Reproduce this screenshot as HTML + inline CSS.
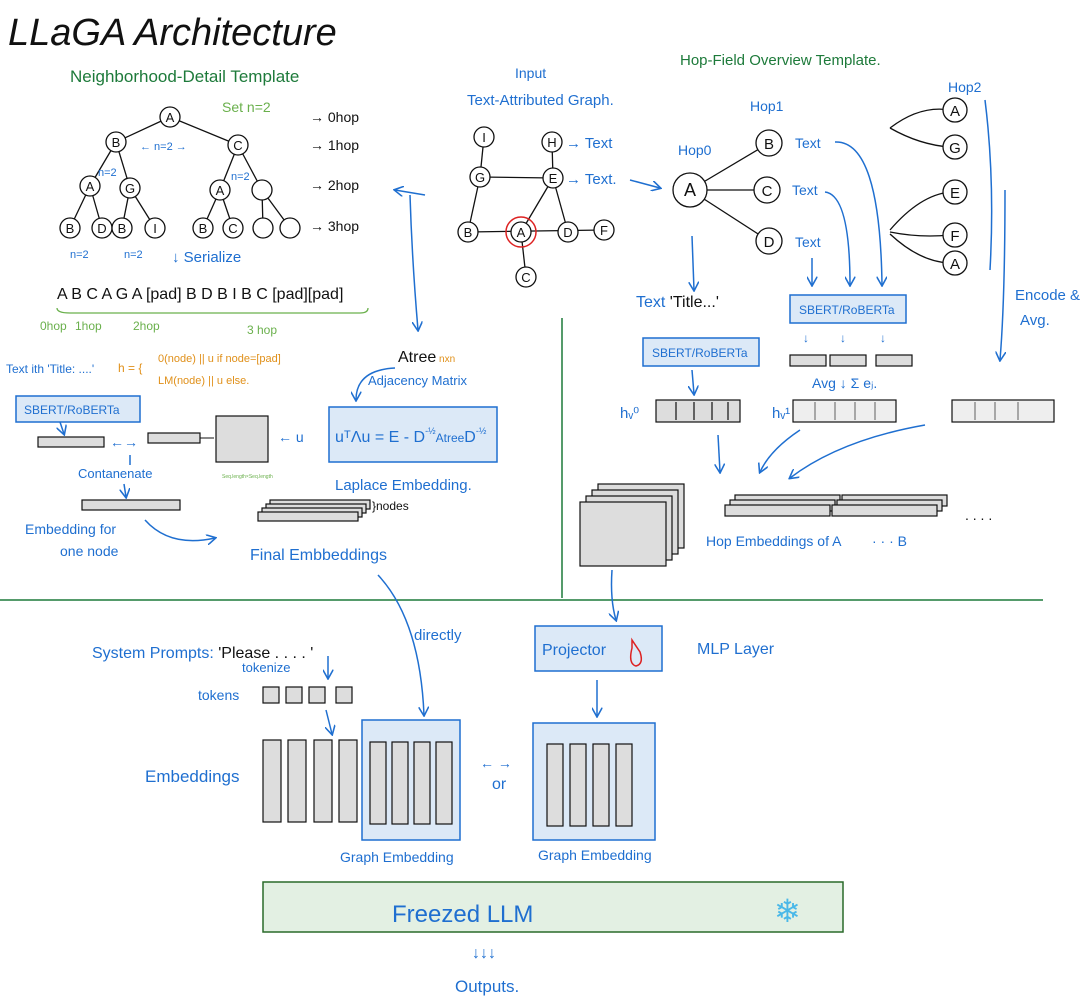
<!DOCTYPE html>
<html><head><meta charset="utf-8"><style>
html,body{margin:0;padding:0;background:#fff;}
svg{display:block;font-family:"Liberation Sans",sans-serif;}
.b{fill:#1f6fd0;}
.g{fill:#1d7a3a;}
.k{fill:#111;}
.o{fill:#e0901a;}
.lb{fill:#dce9f7;stroke:#1f6fd0;stroke-width:1.5;}
.gr{fill:#ddd;stroke:#111;stroke-width:1.2;}
.ln{stroke:#1f6fd0;stroke-width:1.5;fill:none;}
.kl{stroke:#111;stroke-width:1.3;fill:none;}
.c{fill:#fff;stroke:#111;stroke-width:1.3;}
</style></head><body>
<svg width="1081" height="1000" viewBox="0 0 1081 1000">
<defs><marker id="a" viewBox="0 0 10 10" refX="8" refY="5" markerWidth="7" markerHeight="7" orient="auto"><path d="M0,0 L9,5 L0,10" fill="none" stroke="#1f6fd0" stroke-width="1.5"/></marker></defs>
<rect width="1081" height="1000" fill="#fff"/>
<text x="8" y="45" font-size="38" font-style="italic" class="k">LLaGA Architecture</text>
<line x1="0" y1="600" x2="1043" y2="600" stroke="#1d7a3a" stroke-width="1.5"/>
<line x1="562" y1="318" x2="562" y2="598" stroke="#1d7a3a" stroke-width="1.5"/>

<text x="70" y="82" font-size="17" class="g">Neighborhood-Detail Template</text>
<text x="222" y="112" font-size="14" fill="#6ab04c">Set n=2</text>
<g class="kl">
<line x1="170" y1="117" x2="116" y2="142"/><line x1="170" y1="117" x2="238" y2="145"/>
<line x1="116" y1="142" x2="90" y2="186"/><line x1="116" y1="142" x2="130" y2="188"/>
<line x1="238" y1="145" x2="220" y2="190"/><line x1="238" y1="145" x2="262" y2="190"/>
<line x1="90" y1="186" x2="70" y2="228"/><line x1="90" y1="186" x2="102" y2="228"/>
<line x1="130" y1="188" x2="122" y2="228"/><line x1="130" y1="188" x2="155" y2="228"/>
<line x1="220" y1="190" x2="203" y2="228"/><line x1="220" y1="190" x2="233" y2="228"/>
<line x1="262" y1="190" x2="263" y2="228"/><line x1="262" y1="190" x2="290" y2="228"/>
</g>
<g font-size="13" text-anchor="middle" class="k">
<circle class="c" cx="170" cy="117" r="10"/><text x="170" y="122">A</text>
<circle class="c" cx="116" cy="142" r="10"/><text x="116" y="147">B</text>
<circle class="c" cx="238" cy="145" r="10"/><text x="238" y="150">C</text>
<circle class="c" cx="90" cy="186" r="10"/><text x="90" y="191">A</text>
<circle class="c" cx="130" cy="188" r="10"/><text x="130" y="193">G</text>
<circle class="c" cx="220" cy="190" r="10"/><text x="220" y="195">A</text>
<circle class="c" cx="262" cy="190" r="10"/>
<circle class="c" cx="70" cy="228" r="10"/><text x="70" y="233">B</text>
<circle class="c" cx="102" cy="228" r="10"/><text x="102" y="233">D</text>
<circle class="c" cx="122" cy="228" r="10"/><text x="122" y="233">B</text>
<circle class="c" cx="155" cy="228" r="10"/><text x="155" y="233">I</text>
<circle class="c" cx="203" cy="228" r="10"/><text x="203" y="233">B</text>
<circle class="c" cx="233" cy="228" r="10"/><text x="233" y="233">C</text>
<circle class="c" cx="263" cy="228" r="10"/>
<circle class="c" cx="290" cy="228" r="10"/>
</g>
<g font-size="11" class="b"><text x="140" y="150">← n=2 →</text><text x="98" y="176">n=2</text><text x="231" y="180">n=2</text><text x="70" y="258">n=2</text><text x="124" y="258">n=2</text></g>
<g font-size="14" class="k"><text x="310" y="122">→ 0hop</text><text x="310" y="150">→ 1hop</text><text x="310" y="190">→ 2hop</text><text x="310" y="231">→ 3hop</text></g>
<text x="172" y="262" font-size="15" class="b">↓ Serialize</text>
<text x="57" y="299" font-size="16" class="k">A B C A G A [pad] B D B I B C [pad][pad]</text>
<path d="M57,308 Q57,313 70,313 L360,313 Q368,313 368,308" stroke="#6ab04c" fill="none" stroke-width="1.3"/>
<g font-size="12" fill="#6ab04c"><text x="40" y="330">0hop</text><text x="75" y="330">1hop</text><text x="133" y="330">2hop</text><text x="247" y="334">3 hop</text></g>
<text x="6" y="373" font-size="12" class="b">Text ith 'Title: ....'</text>
<text x="118" y="372" font-size="12" class="o">h = {</text>
<text x="158" y="362" font-size="11" class="o">0(node) || u  if node=[pad]</text>
<text x="158" y="384" font-size="11" class="o">LM(node) || u  else.</text>
<rect class="lb" x="16" y="396" width="124" height="26"/><text x="24" y="414" font-size="12" class="b">SBERT/RoBERTa</text>
<line class="ln" x1="60" y1="422" x2="64" y2="434" marker-end="url(#a)"/>
<rect class="gr" x="38" y="437" width="66" height="10"/>
<text x="110" y="447" font-size="14" class="b">←→</text>
<rect class="gr" x="148" y="433" width="52" height="10"/>
<line x1="200" y1="438" x2="214" y2="438" stroke="#111"/>
<rect class="gr" x="216" y="416" width="52" height="46"/>
<text x="222" y="478" font-size="5" fill="#6ab04c">Seq.length×Seq.length</text>
<text x="278" y="442" font-size="14" class="b">← u</text>
<rect class="lb" x="329" y="407" width="168" height="55"/>
<text x="335" y="442" font-size="16" class="b">uᵀΛu = E - D<tspan font-size="9" dy="-8">-½</tspan><tspan dy="8" font-size="12">Atree</tspan>D<tspan font-size="9" dy="-8">-½</tspan></text>
<text x="398" y="362" font-size="16" class="k">Atree<tspan font-size="10" fill="#e0901a"> nxn</tspan></text>
<text x="368" y="385" font-size="13" class="b">Adjacency Matrix</text>
<path class="ln" d="M395,368 Q356,370 356,400" marker-end="url(#a)"/>
<text x="335" y="490" font-size="15" class="b">Laplace Embedding.</text>
<line class="ln" x1="130" y1="455" x2="130" y2="465"/>
<text x="78" y="478" font-size="13" class="b">Contanenate</text>
<line class="ln" x1="124" y1="484" x2="126" y2="497" marker-end="url(#a)"/>
<rect class="gr" x="82" y="500" width="98" height="10"/>
<text x="25" y="534" font-size="14" class="b">Embedding for</text>
<text x="60" y="556" font-size="14" class="b">one node</text>
<path class="ln" d="M145,520 Q170,548 215,538" marker-end="url(#a)"/>
<g><rect class="gr" x="270" y="500" width="100" height="9"/><rect class="gr" x="266" y="504" width="100" height="9"/><rect class="gr" x="262" y="508" width="100" height="9"/><rect class="gr" x="258" y="512" width="100" height="9"/></g>
<text x="372" y="510" font-size="12" class="k">}nodes</text>
<text x="250" y="560" font-size="16" class="b">Final Embbeddings</text>

<text x="515" y="78" font-size="14" class="b">Input</text>
<text x="467" y="105" font-size="15" class="b">Text-Attributed Graph.</text>
<g class="kl">
<line x1="484" y1="137" x2="480" y2="177"/><line x1="552" y1="142" x2="553" y2="178"/>
<line x1="480" y1="177" x2="553" y2="178"/><line x1="480" y1="177" x2="468" y2="232"/>
<line x1="553" y1="178" x2="521" y2="232"/><line x1="553" y1="178" x2="568" y2="232"/>
<line x1="468" y1="232" x2="604" y2="230"/><line x1="521" y1="232" x2="526" y2="277"/>
</g>
<circle cx="521" cy="232" r="15" fill="none" stroke="#d22" stroke-width="1.5"/>
<g font-size="13" text-anchor="middle" class="k">
<circle class="c" cx="484" cy="137" r="10"/><text x="484" y="142">I</text>
<circle class="c" cx="552" cy="142" r="10"/><text x="552" y="147">H</text>
<circle class="c" cx="480" cy="177" r="10"/><text x="480" y="182">G</text>
<circle class="c" cx="553" cy="178" r="10"/><text x="553" y="183">E</text>
<circle class="c" cx="468" cy="232" r="10"/><text x="468" y="237">B</text>
<circle class="c" cx="521" cy="232" r="10"/><text x="521" y="237">A</text>
<circle class="c" cx="568" cy="232" r="10"/><text x="568" y="237">D</text>
<circle class="c" cx="604" cy="230" r="10"/><text x="604" y="235">F</text>
<circle class="c" cx="526" cy="277" r="10"/><text x="526" y="282">C</text>
</g>
<text x="566" y="148" font-size="15" class="b">→ Text</text>
<text x="566" y="184" font-size="15" class="b">→ Text.</text>
<path class="ln" d="M425,195 L395,190" marker-end="url(#a)"/>
<path class="ln" d="M410,195 Q412,260 418,330" marker-end="url(#a)"/>
<path class="ln" d="M630,180 L660,188" marker-end="url(#a)"/>

<text x="680" y="65" font-size="15" class="g">Hop-Field Overview Template.</text>
<text x="750" y="111" font-size="14" class="b">Hop1</text>
<text x="948" y="92" font-size="14" class="b">Hop2</text>
<text x="678" y="155" font-size="14" class="b">Hop0</text>
<g class="kl"><line x1="690" y1="190" x2="769" y2="143"/><line x1="690" y1="190" x2="767" y2="190"/><line x1="690" y1="190" x2="769" y2="241"/>
<path d="M890,128 Q920,105 950,110"/><path d="M890,128 Q920,145 950,147"/><path d="M890,230 Q920,195 950,192"/><path d="M890,232 Q920,238 950,235"/><path d="M890,234 Q920,262 950,263"/></g>
<g font-size="15" text-anchor="middle" class="k">
<circle class="c" cx="690" cy="190" r="17"/><text x="690" y="196" font-size="18">A</text>
<circle class="c" cx="769" cy="143" r="13"/><text x="769" y="149">B</text>
<circle class="c" cx="767" cy="190" r="13"/><text x="767" y="196">C</text>
<circle class="c" cx="769" cy="241" r="13"/><text x="769" y="247">D</text>
<circle class="c" cx="955" cy="110" r="12"/><text x="955" y="116">A</text>
<circle class="c" cx="955" cy="147" r="12"/><text x="955" y="153">G</text>
<circle class="c" cx="955" cy="192" r="12"/><text x="955" y="198">E</text>
<circle class="c" cx="955" cy="235" r="12"/><text x="955" y="241">F</text>
<circle class="c" cx="955" cy="263" r="12"/><text x="955" y="269">A</text>
</g>
<g font-size="14" class="b"><text x="795" y="148">Text</text><text x="792" y="195">Text</text><text x="795" y="247">Text</text></g>
<path class="ln" d="M835,142 Q880,140 882,285" marker-end="url(#a)"/>
<path class="ln" d="M825,192 Q850,195 850,285" marker-end="url(#a)"/>
<line class="ln" x1="812" y1="258" x2="812" y2="285" marker-end="url(#a)"/>
<path class="ln" d="M985,100 Q995,180 990,270"/>
<path class="ln" d="M1005,190 Q1005,300 1000,360" marker-end="url(#a)"/>
<text x="1015" y="300" font-size="15" class="b">Encode &amp;</text>
<text x="1020" y="325" font-size="15" class="b">Avg.</text>
<line class="ln" x1="692" y1="236" x2="694" y2="290" marker-end="url(#a)"/>
<text x="636" y="307" font-size="16" class="b">Text <tspan fill="#111">'Title...'</tspan></text>
<rect class="lb" x="643" y="338" width="116" height="28"/><text x="652" y="357" font-size="12" class="b">SBERT/RoBERTa</text>
<rect class="lb" x="790" y="295" width="116" height="28"/><text x="799" y="314" font-size="12" class="b">SBERT/RoBERTa</text>
<g font-size="12" class="b"><text x="803" y="342">↓</text><text x="840" y="342">↓</text><text x="880" y="342">↓</text></g>
<g class="gr"><rect x="790" y="355" width="36" height="11"/><rect x="830" y="355" width="36" height="11"/><rect x="876" y="355" width="36" height="11"/></g>
<text x="812" y="388" font-size="14" class="b">Avg ↓ Σ eⱼ.</text>
<line class="ln" x1="692" y1="370" x2="694" y2="394" marker-end="url(#a)"/>
<text x="620" y="418" font-size="15" class="b">hᵥ⁰</text>
<rect class="gr" x="656" y="400" width="84" height="22"/>
<g stroke="#111" stroke-width="1.2"><line x1="676" y1="402" x2="676" y2="420"/><line x1="694" y1="402" x2="694" y2="420"/><line x1="712" y1="402" x2="712" y2="420"/><line x1="728" y1="402" x2="728" y2="420"/>
<line x1="815" y1="402" x2="815" y2="420"/><line x1="835" y1="402" x2="835" y2="420"/><line x1="855" y1="402" x2="855" y2="420"/><line x1="875" y1="402" x2="875" y2="420"/>
<line x1="975" y1="402" x2="975" y2="420"/><line x1="995" y1="402" x2="995" y2="420"/><line x1="1018" y1="402" x2="1018" y2="420"/></g>
<text x="772" y="418" font-size="15" class="b">hᵥ¹</text>
<rect class="gr" x="793" y="400" width="103" height="22" fill-opacity="0.5"/>
<rect class="gr" x="952" y="400" width="102" height="22" fill-opacity="0.5"/>
<line class="ln" x1="718" y1="435" x2="720" y2="472" marker-end="url(#a)"/>
<path class="ln" d="M800,430 Q770,450 760,472" marker-end="url(#a)"/>
<path class="ln" d="M925,425 Q840,440 790,478" marker-end="url(#a)"/>
<g><rect class="gr" x="598" y="484" width="86" height="64"/><rect class="gr" x="592" y="490" width="86" height="64"/><rect class="gr" x="586" y="496" width="86" height="64"/><rect class="gr" x="580" y="502" width="86" height="64"/></g>
<g><rect class="gr" x="735" y="495" width="105" height="11"/><rect class="gr" x="730" y="500" width="105" height="11"/><rect class="gr" x="725" y="505" width="105" height="11"/>
<rect class="gr" x="842" y="495" width="105" height="11"/><rect class="gr" x="837" y="500" width="105" height="11"/><rect class="gr" x="832" y="505" width="105" height="11"/></g>
<text x="965" y="520" font-size="14" class="k">. . . .</text>
<text x="706" y="546" font-size="14" class="b">Hop Embeddings of A</text>
<text x="872" y="546" font-size="14" class="b">· · · B</text>
<path class="ln" d="M612,570 Q610,600 616,620" marker-end="url(#a)"/>

<text x="92" y="658" font-size="16" class="b">System Prompts: <tspan fill="#111">'Please . . . . '</tspan></text>
<text x="242" y="672" font-size="13" class="b">tokenize</text>
<line class="ln" x1="328" y1="656" x2="328" y2="678" marker-end="url(#a)"/>
<text x="198" y="700" font-size="14" class="b">tokens</text>
<g class="gr"><rect x="263" y="687" width="16" height="16"/><rect x="286" y="687" width="16" height="16"/><rect x="309" y="687" width="16" height="16"/><rect x="336" y="687" width="16" height="16"/></g>
<line class="ln" x1="326" y1="710" x2="332" y2="734" marker-end="url(#a)"/>
<text x="145" y="782" font-size="17" class="b">Embeddings</text>
<g class="gr"><rect x="263" y="740" width="18" height="82"/><rect x="288" y="740" width="18" height="82"/><rect x="314" y="740" width="18" height="82"/><rect x="339" y="740" width="18" height="82"/></g>
<rect class="lb" x="362" y="720" width="98" height="120"/>
<g class="gr"><rect x="370" y="742" width="16" height="82"/><rect x="392" y="742" width="16" height="82"/><rect x="414" y="742" width="16" height="82"/><rect x="436" y="742" width="16" height="82"/></g>
<text x="340" y="862" font-size="14" class="b">Graph Embedding</text>
<path class="ln" d="M378,575 Q420,620 424,715" marker-end="url(#a)"/>
<text x="414" y="640" font-size="15" class="b">directly</text>
<text x="480" y="768" font-size="14" class="b">← →</text>
<text x="492" y="789" font-size="16" class="b">or</text>
<rect class="lb" x="535" y="626" width="127" height="45"/>
<text x="542" y="655" font-size="16" class="b">Projector</text>
<path d="M632,648 Q628,664 636,666 Q644,664 640,652 Q636,646 632,640 Z" fill="none" stroke="#d22" stroke-width="1.5"/>
<text x="697" y="654" font-size="16" class="b">MLP Layer</text>
<line class="ln" x1="597" y1="680" x2="597" y2="716" marker-end="url(#a)"/>
<rect class="lb" x="533" y="723" width="122" height="117"/>
<g class="gr"><rect x="547" y="744" width="16" height="82"/><rect x="570" y="744" width="16" height="82"/><rect x="593" y="744" width="16" height="82"/><rect x="616" y="744" width="16" height="82"/></g>
<text x="538" y="860" font-size="14" class="b">Graph Embedding</text>
<rect x="263" y="882" width="580" height="50" fill="#e3f0e3" stroke="#2a6a2a" stroke-width="1.5"/>
<text x="392" y="922" font-size="24" class="b">Freezed LLM</text>
<text x="774" y="922" font-size="32" fill="#4ab8e8">❄</text>
<text x="472" y="958" font-size="16" class="b">↓↓↓</text>
<text x="455" y="992" font-size="17" class="b">Outputs.</text>
</svg>
</body></html>
